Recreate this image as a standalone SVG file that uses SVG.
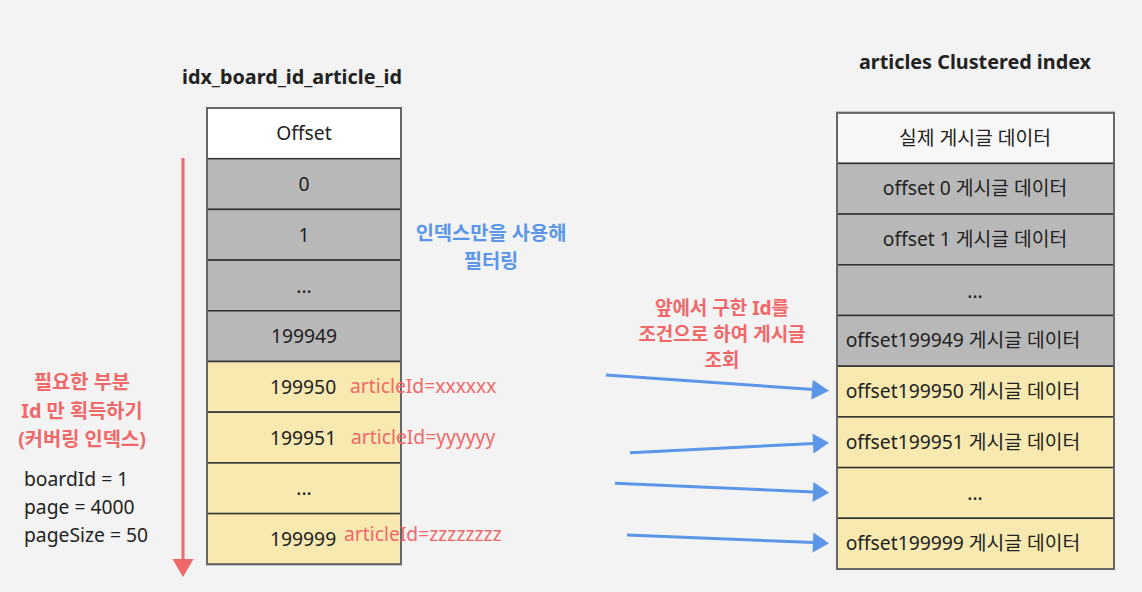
<svg xmlns="http://www.w3.org/2000/svg" width="1142" height="592" viewBox="0 0 1142 592">
<defs>
<style>
text{font-family:"Noto Sans","Noto Sans CJK KR",sans-serif;font-size:19.3px;fill:#222}
.c{text-anchor:middle}
.b{font-weight:bold;font-size:19.8px}
.s{font-size:19px}
.red{fill:#f06868}
.blue{fill:#5b96e8}
.cell{stroke:#333;stroke-width:1.5}
.gray{fill:#b8b8b8}
.yel{fill:#f7e9b0}
.conn{stroke:#5b96e8;stroke-width:3;fill:none}
</style>
</defs>
<rect width="1142" height="592" fill="#f3f3f3"/>

<text class="c b" x="292" y="84">idx_board_id_article_id</text>
<text class="c b" x="975" y="69">articles Clustered index</text>

<g id="left-index">
<rect class="cell" x="207" y="108" width="194" height="50.7" fill="#ffffff"/>
<rect class="cell gray" x="207" y="158.7" width="194" height="50.7"/>
<rect class="cell gray" x="207" y="209.4" width="194" height="50.7"/>
<rect class="cell gray" x="207" y="260.1" width="194" height="50.7"/>
<rect class="cell gray" x="207" y="310.8" width="194" height="50.7"/>
<rect class="cell yel" x="207" y="361.5" width="194" height="50.7"/>
<rect class="cell yel" x="207" y="412.2" width="194" height="50.7"/>
<rect class="cell yel" x="207" y="462.9" width="194" height="50.7"/>
<rect class="cell yel" x="207" y="513.6" width="194" height="50.7"/>
<rect x="207" y="108" width="194" height="456.3" fill="none" stroke="#666" stroke-width="2"/>
<text class="c" x="304" y="140">Offset</text>
<text class="c" x="304" y="191">0</text>
<text class="c" x="304" y="242">1</text>
<text class="c" x="304" y="293">...</text>
<text class="c" x="304" y="343">199949</text>
<text x="270" y="394">199950</text>
<text x="270" y="445">199951</text>
<text class="c" x="304" y="495">...</text>
<text x="270" y="546">199999</text>
</g>

<g id="article-ids">
<text class="red" x="350" y="393">articleId=xxxxxx</text>
<text class="red" x="351" y="444">articleId=yyyyyy</text>
<text class="red" x="344" y="541">articleId=zzzzzzzz</text>
</g>

<g id="right-index">
<rect class="cell" x="837" y="112.7" width="277" height="50.7" fill="#f7f7f7"/>
<rect class="cell gray" x="837" y="163.4" width="277" height="50.7"/>
<rect class="cell gray" x="837" y="214.1" width="277" height="50.7"/>
<rect class="cell gray" x="837" y="264.8" width="277" height="50.7"/>
<rect class="cell gray" x="837" y="315.5" width="277" height="50.7"/>
<rect class="cell yel" x="837" y="366.2" width="277" height="50.7"/>
<rect class="cell yel" x="837" y="416.9" width="277" height="50.7"/>
<rect class="cell yel" x="837" y="467.6" width="277" height="50.7"/>
<rect class="cell yel" x="837" y="518.3" width="277" height="50.7"/>
<rect x="837" y="112.7" width="277" height="456.3" fill="none" stroke="#666" stroke-width="2"/>
<text class="c" x="975" y="145">실제 게시글 데이터</text>
<text class="c" x="975" y="195">offset 0 게시글 데이터</text>
<text class="c" x="975" y="246">offset 1 게시글 데이터</text>
<text class="c" x="975" y="298">...</text>
<text class="c" x="963" y="347">offset199949 게시글 데이터</text>
<text class="c" x="963" y="398">offset199950 게시글 데이터</text>
<text class="c" x="963" y="449">offset199951 게시글 데이터</text>
<text class="c" x="975" y="500">...</text>
<text class="c" x="963" y="550">offset199999 게시글 데이터</text>
</g>

<g id="label-filter">
<text class="c b blue" x="491" y="240">인덱스만을 사용해</text>
<text class="c b blue" x="491" y="268">필터링</text>
</g>

<g id="label-lookup">
<text class="c b s red" x="722" y="315">앞에서 구한 Id를</text>
<text class="c b s red" x="722" y="341">조건으로 하여 게시글</text>
<text class="c b s red" x="722" y="367">조회</text>
</g>

<g id="label-covering">
<text class="c b red" x="82" y="389">필요한 부분</text>
<text class="c b red" x="82" y="418">Id 만 획득하기</text>
<text class="c b red" x="82" y="446">(커버링 인덱스)</text>
</g>

<g id="params">
<text x="24" y="486">boardId = 1</text>
<text x="24" y="514">page = 4000</text>
<text x="24" y="542">pageSize = 50</text>
</g>

<g id="connectors">
<line x1="183" y1="158" x2="183" y2="562" stroke="#f06868" stroke-width="3"/>
<path d="M172.5,559 L193.5,559 L183,577 z" fill="#f06868"/>
<line class="conn" x1="606" y1="375" x2="814" y2="389.6"/>
<path d="M812.7,379.7 L829,390.7 L811.3,399.6 z" fill="#5b96e8"/>
<line class="conn" x1="630" y1="452.7" x2="814" y2="443.5"/>
<path d="M812.5,433.5 L829,442.7 L813.5,453.5 z" fill="#5b96e8"/>
<line class="conn" x1="615" y1="483.3" x2="814" y2="492"/>
<path d="M813.4,482 L829,492.7 L812.6,502 z" fill="#5b96e8"/>
<line class="conn" x1="627" y1="535" x2="814" y2="542.6"/>
<path d="M813.4,532.6 L829,543.3 L812.6,552.6 z" fill="#5b96e8"/>
</g>
</svg>
